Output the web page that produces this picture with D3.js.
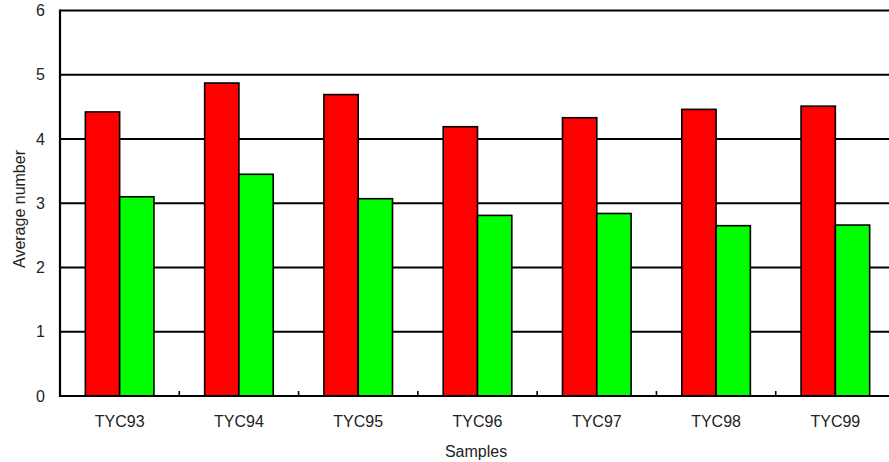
<!DOCTYPE html>
<html><head><meta charset="utf-8">
<script src="https://cdn.jsdelivr.net/npm/d3@7/dist/d3.min.js"></script>
<style>body{margin:0;background:#fff}svg{display:block}text{font-family:"Liberation Sans",Arial,sans-serif;fill:#222}</style>
</head><body><svg id="c" width="889" height="462"></svg>
<script>
const categories = ["TYC93","TYC94","TYC95","TYC96","TYC97","TYC98","TYC99"];
const seriesA = [4.42,4.87,4.69,4.19,4.33,4.46,4.51];
const seriesB = [3.10,3.45,3.07,2.81,2.84,2.65,2.66];
const yTicks = [0,1,2,3,4,5,6];
const colors = ["#ff0000","#00ff00"];

const svg = d3.select("#c");
const pL = 60, pR = 895, pT = 10.4, pB = 396;
const x = d3.scaleBand().domain(categories).range([pL,pR]).padding(0);
const y = d3.scaleLinear().domain([0,6]).range([pB,pT]);
const bw = x.bandwidth()*0.2875;

// grid
svg.append("g").selectAll("line").data(yTicks.filter(d=>d>0)).join("line")
  .attr("x1",pL).attr("x2",889).attr("y1",d=>y(d)).attr("y2",d=>y(d))
  .attr("stroke","#000").attr("stroke-width",2);

const data = categories.map((c,i)=>({c, v:[seriesA[i],seriesB[i]]}));
const g = svg.append("g");
data.forEach(d=>{
  d.v.forEach((v,j)=>{
    const cx = x(d.c)+x.bandwidth()/2;
    g.append("rect")
      .attr("x", cx + (j-1)*bw).attr("width", bw)
      .attr("y", y(v)).attr("height", y(0)-y(v))
      .attr("fill", colors[j]).attr("stroke","#000").attr("stroke-width",1.6);
  });
});

// axes
svg.append("line").attr("x1",pL).attr("x2",pL).attr("y1",pT-1).attr("y2",pB+1)
  .attr("stroke","#000").attr("stroke-width",2.2);
svg.append("line").attr("x1",pL-1).attr("x2",889).attr("y1",pB).attr("y2",pB)
  .attr("stroke","#000").attr("stroke-width",2.2);
// category ticks
svg.append("g").selectAll("line").data(categories.slice(1)).join("line")
  .attr("x1",d=>x(d)).attr("x2",d=>x(d)).attr("y1",pB).attr("y2",pB-5)
  .attr("stroke","#000").attr("stroke-width",1.6);

svg.append("g").selectAll("text").data(yTicks).join("text")
  .attr("x",45).attr("y",d=>y(d)).attr("dy","0.36em").attr("text-anchor","end")
  .attr("font-size",16).text(d=>d);
svg.append("g").selectAll("text").data(categories).join("text")
  .attr("x",d=>x(d)+x.bandwidth()/2).attr("y",427).attr("text-anchor","middle")
  .attr("font-size",16).text(d=>d);
svg.append("text").attr("x",476).attr("y",457).attr("text-anchor","middle")
  .attr("font-size",16).text("Samples");
svg.append("text").attr("transform","translate(25,209) rotate(-90)").attr("text-anchor","middle")
  .attr("font-size",16).text("Average number");
</script></body></html>
